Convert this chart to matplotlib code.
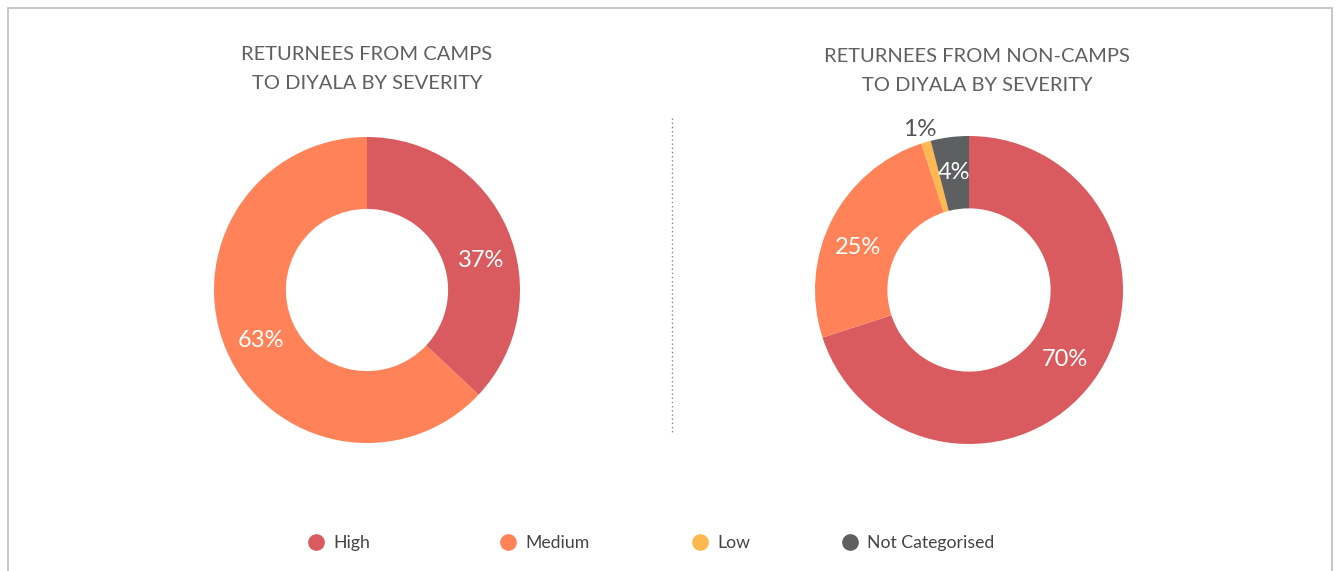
import numpy as np
import matplotlib
matplotlib.use("Agg")
import matplotlib.pyplot as plt
from matplotlib.patches import Rectangle
from matplotlib.lines import Line2D

plt.rcParams['font.family'] = ['Lato', 'DejaVu Sans']

categories = ['High', 'Medium', 'Low', 'Not Categorised']
colors = ['#D95B5F', '#FF8258', '#FDB94F', '#5E5F61']

camps_values = [37, 63, 0, 0]
noncamps_values = [70, 25, 1, 4]

titles = ['RETURNEES FROM CAMPS\nTO DIYALA BY SEVERITY',
          'RETURNEES FROM NON-CAMPS\nTO DIYALA BY SEVERITY']

W, H = 1340, 571
fig = plt.figure(figsize=(W / 100, H / 100), dpi=100)

# outer frame
fig.patches.append(Rectangle((8 / W, -0.1), (1332 - 8) / W, 1 - 8 / H + 0.1,
                             transform=fig.transFigure, fill=False,
                             edgecolor='#BDBDBD', linewidth=1.2))


def donut(cx, cy, r, values, title, tx, ty, nudge):
    ax = fig.add_axes([(cx - r) / W, (H - cy - r) / H, 2 * r / W, 2 * r / H])
    vals = [v for v in values if v > 0]
    cols = [c for v, c in zip(values, colors) if v > 0]
    wedges, _ = ax.pie(vals, colors=cols, startangle=90, counterclock=False,
                       radius=1, wedgeprops=dict(width=0.47, linewidth=0))
    ax.set_xlim(-1, 1)
    ax.set_ylim(-1, 1)
    ax.set_aspect('equal')
    ax.axis('off')
    for i, (w, v) in enumerate(zip(wedges, vals)):
        ang = np.deg2rad((w.theta1 + w.theta2) / 2 + nudge[i])
        if v < 2:
            ax.text(1.09 * np.cos(ang), 1.09 * np.sin(ang), f'{v}%',
                    ha='center', va='center', fontsize=17.5, color='#555555',
                    clip_on=False)
        else:
            rr = 0.77 if v > 3 else 0.81
            ax.text(rr * np.cos(ang), rr * np.sin(ang), f'{v}%',
                    ha='center', va='center', fontsize=17, color='white')
    fig.text(tx / W, 1 - ty / H, title, ha='center', va='center',
             fontsize=14.5, color='#606060', linespacing=1.9)
    return ax


donut(367, 290, 153, camps_values, titles[0], 367, 69, [-9, 2])
donut(969, 290, 154, noncamps_values, titles[1], 977, 71, [0, 6, 1, 0])

# dotted divider
fig.add_artist(Line2D([672 / W, 672 / W], [1 - 118 / H, 1 - 432 / H],
                      transform=fig.transFigure, color='#888888',
                      linestyle=(0, (1, 2)), linewidth=1))

# legend, one entry per slot
legend_x = [305, 497, 689, 839]
for cat, col, lx in zip(categories, colors, legend_x):
    h = Line2D([], [], marker='o', linestyle='', markersize=11,
               markerfacecolor=col, markeredgecolor=col)
    fig.legend([h], [cat], loc='center left', bbox_to_anchor=(lx / W, 1 - 543 / H),
               frameon=False, fontsize=12.7, handletextpad=0.4,
               handlelength=1.2, borderpad=0, borderaxespad=0,
               labelcolor='#444444')

fig.savefig('out.png', dpi=100)
